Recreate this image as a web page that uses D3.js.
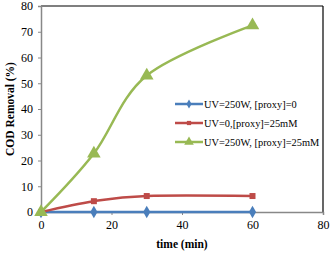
<!DOCTYPE html>
<html>
<head>
<meta charset="utf-8">
<script src="https://cdn.jsdelivr.net/npm/d3@7"></script>
<style>
  body { margin: 0; background: #fff; }
  text { font-family: "Liberation Serif", "Times New Roman", serif; }
</style>
</head>
<body>
<div id="chart-area"></div>
<script>
// Data
var times = [0, 15, 30, 60];
var uvOnly = [0, 0, 0, 0];
var proxyOnly = [0, 4.2, 6.2, 6.2];
var uvProxy = [0, 22.7, 53, 72.5];
var seriesNames = ["UV=250W, [proxy]=0", "UV=0,[proxy]=25mM", "UV=250W, [proxy]=25mM"];
var xTicks = [0, 20, 40, 60, 80];
var yTicks = [0, 10, 20, 30, 40, 50, 60, 70, 80];

var margin = { left: 41, right: 8, top: 6, bottom: 42 };
var width = 331 - margin.left - margin.right;
var height = 254 - margin.top - margin.bottom;

var svg = d3.select("#chart-area")
  .append("svg")
    .attr("width", 331)
    .attr("height", 254);

var g = svg.append("g")
  .attr("transform", "translate(" + margin.left + ", " + margin.top + ")");

var x = d3.scaleLinear().domain([0, 80]).range([0, width]);
var y = d3.scaleLinear().domain([0, 80]).range([height, 0]);

// frame: top and right dark
g.append("line").attr("x1", 0).attr("x2", width).attr("y1", 0).attr("y2", 0)
  .attr("stroke", "#000").attr("stroke-width", 1.2);
g.append("line").attr("x1", width).attr("x2", width).attr("y1", 0).attr("y2", height)
  .attr("stroke", "#000").attr("stroke-width", 1.2);

// axes
var xAxis = g.append("g")
  .attr("transform", "translate(0, " + height + ")")
  .call(d3.axisBottom(x).tickValues(xTicks).tickSizeOuter(0).tickSize(3).tickPadding(5));
var yAxis = g.append("g")
  .call(d3.axisLeft(y).tickValues(yTicks).tickSizeOuter(0).tickSize(3).tickPadding(5));

[xAxis, yAxis].forEach(function (a) {
  a.attr("font-family", null).attr("font-size", null);
  a.select(".domain").attr("stroke", "#888").attr("stroke-width", 1.5);
  a.selectAll(".tick line").attr("stroke", "#888");
  a.selectAll(".tick text")
    .style("font-family", "'Liberation Serif', serif")
    .style("font-size", "12px")
    .attr("fill", "#000");
});

// axis labels
g.append("text")
  .attr("x", width / 2)
  .attr("y", height + 36)
  .attr("font-size", "11.5px")
  .attr("font-weight", "bold")
  .attr("text-anchor", "middle")
  .text("time (min)");

g.append("text")
  .attr("x", -(height / 2))
  .attr("y", -27)
  .attr("font-size", "11.5px")
  .attr("font-weight", "bold")
  .attr("text-anchor", "middle")
  .attr("transform", "rotate(-90)")
  .text("COD Removal (%)");

var colors = ["#4A7EBB", "#BE4B48", "#98B954"];
var allSeries = [uvOnly, proxyOnly, uvProxy];
var symbols = [d3.symbolDiamond, d3.symbolSquare, d3.symbolTriangle];
var symSizes = [45, 36, 80];

// Excel-style smoothing
var line = d3.line()
  .x(function (d) { return x(d[0]); })
  .y(function (d) { return y(d[1]); })
  .curve(d3.curveCatmullRom.alpha(0));

allSeries.forEach(function (vals, i) {
  var pts = times.map(function (t, j) { return [t, vals[j]]; });
  g.append("path")
    .datum(pts)
    .attr("fill", "none")
    .attr("stroke", colors[i])
    .attr("stroke-width", 2.5)
    .attr("d", line);
  g.selectAll(".m" + i)
    .data(pts)
    .enter()
    .append("path")
      .attr("class", "m" + i)
      .attr("transform", function (d) { return "translate(" + x(d[0]) + "," + y(d[1]) + ")"; })
      .attr("d", d3.symbol().type(symbols[i]).size(symSizes[i]))
      .attr("fill", colors[i]);
});

// Legend
var legend = g.append("g").attr("transform", "translate(" + (175 - margin.left) + ", " + (104 - margin.top) + ")");
seriesNames.forEach(function (name, i) {
  var row = legend.append("g").attr("transform", "translate(0," + (i * 19) + ")");
  row.append("line").attr("x1", 0).attr("x2", 28).attr("y1", 0).attr("y2", 0)
    .attr("stroke", colors[i]).attr("stroke-width", 2.5);
  row.append("path")
    .attr("transform", "translate(14,0)")
    .attr("d", d3.symbol().type(symbols[i]).size(symSizes[i] * 0.5))
    .attr("fill", colors[i]);
  row.append("text")
    .attr("x", 29)
    .attr("y", 3.5)
    .attr("font-size", "10.4px")
    .text(name);
});
</script>
</body>
</html>
